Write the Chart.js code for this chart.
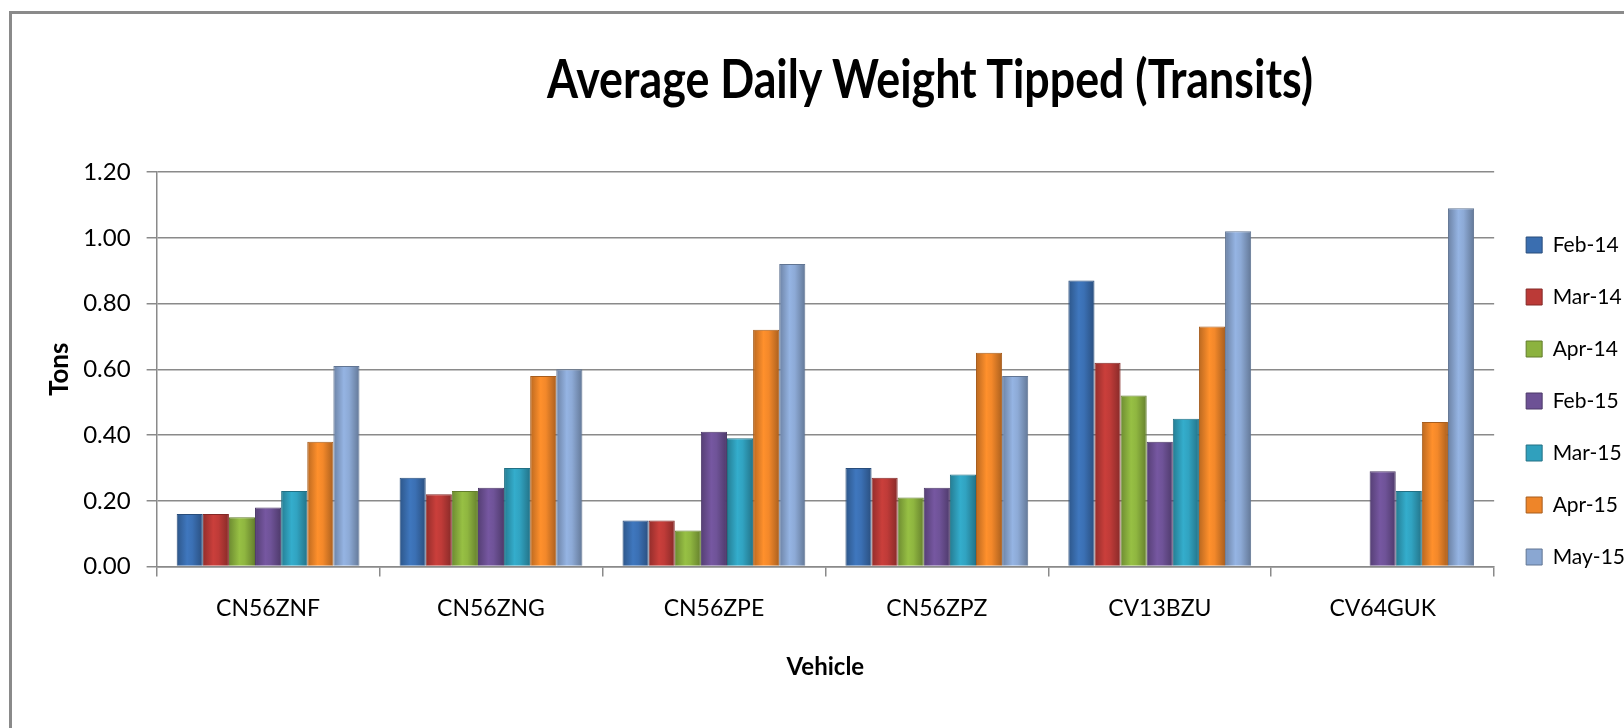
<!DOCTYPE html>
<html>
<head>
<meta charset="utf-8">
<script src="https://cdn.jsdelivr.net/npm/chart.js@4.4.1/dist/chart.umd.min.js"></script>
<style>
    html, body { margin: 0; padding: 0; background: #fff; overflow: hidden; width: 1624px; height: 728px; }
    #frame { position: absolute; left: 9px; top: 11px; width: 2000px; height: 2000px; border: 3px solid #8a8a8a; }
    #wrap { position: absolute; left: 0; top: 0; width: 1634px; height: 728px; }
    #title {
        position: absolute; left: 930px; top: 51px;
        font: bold 54px Lato, "Open Sans", sans-serif;
        line-height: 1; white-space: nowrap; color: #000;
        transform-origin: 50% 50%;
    }
</style>
</head>
<body>
<div id="frame"></div>
<div id="wrap"><canvas id="chart-weight"></canvas></div>
<div id="title">Average Daily Weight Tipped (Transits)</div>
<script>
// data
var vehicles = ["CN56ZNF", "CN56ZNG", "CN56ZPE", "CN56ZPZ", "CV13BZU", "CV64GUK"];
var feb14 = [0.16, 0.27, 0.14, 0.30, 0.87, null];
var mar14 = [0.16, 0.22, 0.14, 0.27, 0.62, null];
var apr14 = [0.15, 0.23, 0.11, 0.21, 0.52, null];
var feb15 = [0.18, 0.24, 0.41, 0.24, 0.38, 0.29];
var mar15 = [0.23, 0.30, 0.39, 0.28, 0.45, 0.23];
var apr15 = [0.38, 0.58, 0.72, 0.65, 0.73, 0.44];
var may15 = [0.61, 0.60, 0.92, 0.58, 1.02, 1.09];
var yTicks = [0, 0.2, 0.4, 0.6, 0.8, 1.0, 1.2];

var face = 'Lato, "Open Sans", sans-serif';

// squeeze the title to the width Excel gave it
var title = document.getElementById("title");
var tw = title.getBoundingClientRect().width;
title.style.transform = "translateX(-50%) scaleX(" + (766 / tw).toFixed(3) + ")";

function shade(hex, f) {
    var n = parseInt(hex.slice(1), 16);
    var r = Math.min(255, Math.round((n >> 16) * f));
    var g = Math.min(255, Math.round(((n >> 8) & 255) * f));
    var b = Math.min(255, Math.round((n & 255) * f));
    return "rgb(" + r + "," + g + "," + b + ")";
}

// rounded-column look: darker edges, lighter middle
function columnFill(base) {
    return function (c) {
        var el = c.element;
        if (!el || el.x === undefined || !el.width) return base;
        var x0 = el.x - el.width / 2, x1 = el.x + el.width / 2;
        var g = c.chart.ctx.createLinearGradient(x0, 0, x1, 0);
        g.addColorStop(0, shade(base, 0.78));
        g.addColorStop(0.4, shade(base, 1.08));
        g.addColorStop(0.6, shade(base, 1.02));
        g.addColorStop(1, shade(base, 0.72));
        return g;
    };
}

function series(label, data, base) {
    return {
        label: label,
        data: data,
        keyColor: base,
        backgroundColor: columnFill(base),
        borderColor: shade(base, 0.7),
        borderWidth: 1,
        borderSkipped: "bottom"
    };
}

// Excel puts the key a little higher than Chart.js does
var legendNudge = {
    id: "legendNudge",
    afterLayout: function (chart) {
        chart.legend.top -= 26;
        chart.legend.bottom -= 26;
        chart.legend.left += 1;
        chart.legend.right += 1;
    }
};

var ctx = document.getElementById("chart-weight").getContext("2d");
var myChart = new Chart(ctx, {
    type: "bar",
    data: {
        labels: vehicles,
        datasets: [
            series("Feb-14", feb14, "#3a6eb0"),
            series("Mar-14", mar14, "#bb3a37"),
            series("Apr-14", apr14, "#8cb23f"),
            series("Feb-15", feb15, "#6d5195"),
            series("Mar-15", mar15, "#30a0bd"),
            series("Apr-15", apr15, "#ee8529"),
            series("May-15", may15, "#8aa7d2"),
        ],
    },
    options: {
        responsive: true,
        maintainAspectRatio: false,
        animation: false,
        datasets: {
            bar: {
                categoryPercentage: 0.82,
                barPercentage: 1.0
            }
        },
        layout: {
            padding: { top: 172, left: 44, bottom: 46, right: 0 }
        },
        scales: {
            x: {
                grid: {
                    offset: true,
                    drawOnChartArea: false,
                    tickLength: 10,
                    color: "#8a8a8a",
                    lineWidth: 1.5
                },
                border: { color: "#8a8a8a", width: 1.5 },
                ticks: {
                    color: "#000",
                    padding: 18,
                    font: { family: face, size: 23 }
                },
                title: {
                    display: true,
                    text: "Vehicle",
                    color: "#000",
                    padding: { top: 13, bottom: 0 },
                    font: { family: face, size: 24, weight: "bold" }
                }
            },
            y: {
                min: 0,
                max: 1.2,
                afterBuildTicks: function (scale) {
                    scale.ticks = yTicks.map(function (v) { return { value: v }; });
                },
                grid: {
                    tickLength: 10,
                    color: "#8a8a8a",
                    lineWidth: 1.5
                },
                border: { color: "#8a8a8a", width: 1.5 },
                ticks: {
                    color: "#000",
                    padding: 16,
                    font: { family: face, size: 24 },
                    callback: function (v) { return Number(v).toFixed(2); }
                },
                title: {
                    display: true,
                    text: "Tons",
                    color: "#000",
                    padding: { top: 0, bottom: -8 },
                    font: { family: face, size: 26, weight: "bold" }
                }
            }
        },
        plugins: {
            legend: {
                position: "right",
                labels: {
                    boxWidth: 16,
                    boxHeight: 16,
                    padding: 31,
                    color: "#000",
                    font: { family: face, size: 21 },
                    generateLabels: function (chart) {
                        var items = Chart.defaults.plugins.legend.labels.generateLabels(chart);
                        items.forEach(function (it, i) {
                            it.fillStyle = chart.data.datasets[i].keyColor;
                        });
                        return items;
                    }
                }
            },
            tooltip: { enabled: false }
        }
    },
    plugins: [legendNudge]
});
// second pass so the column gradients know where each bar sits
myChart.update();
</script>
</body>
</html>
